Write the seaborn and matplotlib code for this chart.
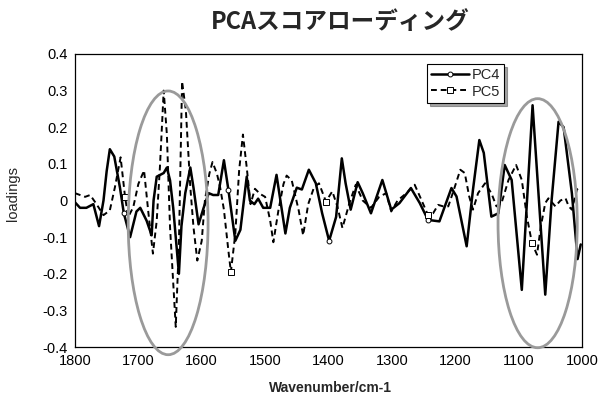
import matplotlib
matplotlib.use("Agg")
import matplotlib.pyplot as plt
from matplotlib.patches import Ellipse
from matplotlib.ticker import FuncFormatter, MultipleLocator
import seaborn as sns
import pandas as pd

# PC4 loadings (solid line)
wn4 = [1800, 1792, 1782, 1771, 1762, 1755, 1750, 1745, 1738, 1729,
       1723, 1713, 1703, 1697, 1687, 1679, 1676, 1671, 1660, 1655,
       1650, 1645, 1636, 1632, 1626, 1618, 1613, 1605, 1597, 1589,
       1582, 1574, 1565, 1558, 1547, 1539, 1529, 1524, 1517, 1511,
       1503, 1492, 1482, 1468, 1461, 1450, 1442, 1431, 1420, 1410,
       1399, 1388, 1379, 1373, 1365, 1354, 1346, 1333, 1315, 1301,
       1288, 1270, 1256, 1243, 1225, 1206, 1198, 1182, 1172, 1162,
       1155, 1143, 1132, 1122, 1111, 1095, 1078, 1058, 1048, 1037,
       1029, 1016, 1007, 1002]
pc4 = [-0.005, -0.02, -0.02, -0.01, -0.07, 0.0, 0.08, 0.14, 0.12, 0.035,
       -0.034, -0.1, -0.03, -0.02, -0.055, -0.095, 0.0, 0.065, 0.075, 0.09,
       0.055, -0.02, -0.2, -0.07, 0.02, 0.09, 0.035, -0.065, -0.02, 0.02,
       0.015, 0.015, 0.11, 0.03, -0.11, -0.08, 0.065, 0.0, -0.01, 0.005,
       -0.02, -0.02, 0.07, -0.09, -0.02, 0.035, 0.03, 0.084, 0.047, -0.035,
       -0.11, -0.045, 0.115, 0.047, -0.025, 0.05, 0.02, -0.035, 0.056, -0.025,
       -0.007, 0.034, -0.007, -0.053, -0.057, 0.034, 0.011, -0.125, 0.03, 0.165,
       0.13, -0.044, -0.035, 0.097, 0.056, -0.244, 0.26, -0.257, 0.0, 0.215,
       0.2, 0.02, -0.16, -0.12]
pc4_marks = [10, 33, 50, 63]

# PC5 loadings (dashed line)
wn5 = [1800, 1792, 1784, 1776, 1766, 1755, 1745, 1737, 1728, 1721,
       1716, 1708, 1700, 1691, 1684, 1677, 1671, 1666, 1660, 1655,
       1650, 1641, 1636, 1631, 1625, 1618, 1613, 1607, 1600, 1595,
       1588, 1583, 1576, 1571, 1565, 1558, 1554, 1547, 1541, 1535,
       1529, 1523, 1516, 1508, 1500, 1492, 1487, 1479, 1471, 1466,
       1458, 1447, 1440, 1432, 1423, 1415, 1404, 1394, 1386, 1378,
       1367, 1357, 1346, 1333, 1320, 1309, 1301, 1291, 1277, 1264,
       1253, 1243, 1235, 1227, 1219, 1211, 1203, 1192, 1185, 1178,
       1172, 1164, 1153, 1143, 1135, 1127, 1116, 1104, 1095, 1087,
       1079, 1071, 1065, 1058, 1053, 1042, 1034, 1026, 1021, 1016,
       1008, 1003]
pc5 = [0.02, 0.015, 0.01, 0.015, -0.01, -0.04, -0.027, 0.036, 0.118, 0.01,
       -0.045, -0.018, 0.045, 0.082, -0.036, -0.145, -0.055, 0.09, 0.3, 0.18,
       -0.073, -0.345, -0.118, 0.325, 0.245, 0.036, -0.073, -0.164, -0.11, 0.0,
       0.073, 0.105, 0.073, 0.036, -0.025, -0.136, -0.195, -0.09, 0.082, 0.18,
       0.09, -0.01, 0.032, 0.018, 0.01, -0.055, -0.114, -0.027, 0.045, 0.068,
       0.055, -0.027, -0.095, -0.01, 0.035, 0.047, -0.003, 0.025, -0.016, -0.075,
       -0.007, 0.043, 0.0, -0.02, 0.01, 0.02, -0.03, 0.0, 0.02, 0.043,
       0.0, -0.04, -0.035, -0.012, -0.016, -0.016, 0.025, 0.084, 0.075, 0.011,
       -0.025, 0.02, 0.047, 0.02, -0.016, -0.007, 0.056, 0.097, 0.056, -0.044,
       -0.116, -0.148, -0.071, -0.007, 0.006, -0.016, 0.0, 0.006, -0.016, -0.025,
       0.03, 0.038]
pc5_marks = [9, 36, 56, 71, 90]

# highlighted regions (centre wavenumber, centre loading, width, height)
regions = [(1653, -0.061, 126, 0.72), (1070, -0.062, 125, 0.68)]

sns.set_style("white")
plt.rcParams["font.family"] = ["Liberation Sans", "DejaVu Sans"]

df4 = pd.DataFrame({"wn": wn4, "loading": pc4})
df5 = pd.DataFrame({"wn": wn5, "loading": pc5})

fig = plt.figure(figsize=(6.12, 3.96), dpi=100)
ax = fig.add_axes([0.1225, 0.1237, 0.8285, 0.74])

sns.lineplot(data=df4, x="wn", y="loading", ax=ax, sort=False, estimator=None,
             color="black", linewidth=1.8, label="PC4",
             marker="o", markersize=3.5, markerfacecolor="white",
             markeredgecolor="black", markeredgewidth=0.7, markevery=pc4_marks)
sns.lineplot(data=df5, x="wn", y="loading", ax=ax, sort=False, estimator=None,
             color="black", linewidth=1.4, linestyle=(0, (3, 2)), label="PC5",
             marker="s", markersize=4.5, markerfacecolor="white",
             markeredgecolor="black", markeredgewidth=0.7, markevery=pc5_marks)

for cx, cy, w, h in regions:
    ax.add_patch(Ellipse((cx, cy), w, h, fill=False, edgecolor="#9a9a9a",
                         linewidth=2.0, clip_on=False, zorder=5))

ax.set_xlim(1800, 1000)
ax.set_ylim(-0.4, 0.4)
ax.xaxis.set_major_locator(MultipleLocator(100))
ax.yaxis.set_major_locator(MultipleLocator(0.1))
ax.yaxis.set_major_formatter(FuncFormatter(lambda v, p: f"{round(v, 2) + 0:g}"))
ax.xaxis.set_major_formatter(FuncFormatter(lambda v, p: f"{v:.0f}"))
ax.tick_params(axis="both", direction="in", length=4, width=0.8,
               labelsize=10.5, colors="black")
ax.tick_params(axis="x", pad=5)
ax.tick_params(axis="y", pad=5)
for s in ax.spines.values():
    s.set_color("black")
    s.set_linewidth(0.9)

ax.set_xlabel("Wavenumber/cm-1", fontsize=10, fontweight="bold")
ax.set_ylabel("loadings", fontsize=10.5)
ax.xaxis.set_label_coords(0.503, -0.116)
ax.yaxis.set_label_coords(-0.108, 0.525)

leg = ax.legend(loc="upper left", bbox_to_anchor=(0.694, 0.966), fontsize=10.5,
                frameon=True, fancybox=False, shadow=True, edgecolor="black",
                framealpha=1, handlelength=2.6, handletextpad=0.15,
                borderpad=0.3, labelspacing=0.15, borderaxespad=0)
leg.get_frame().set_linewidth(0.8)

fig.text(0.556, 0.944, "PCAスコアローディング", ha="center", va="center",
         fontsize=17, fontweight="bold",
         family=["Noto Sans CJK JP", "DejaVu Sans"])

fig.savefig("out.png", dpi=100)
